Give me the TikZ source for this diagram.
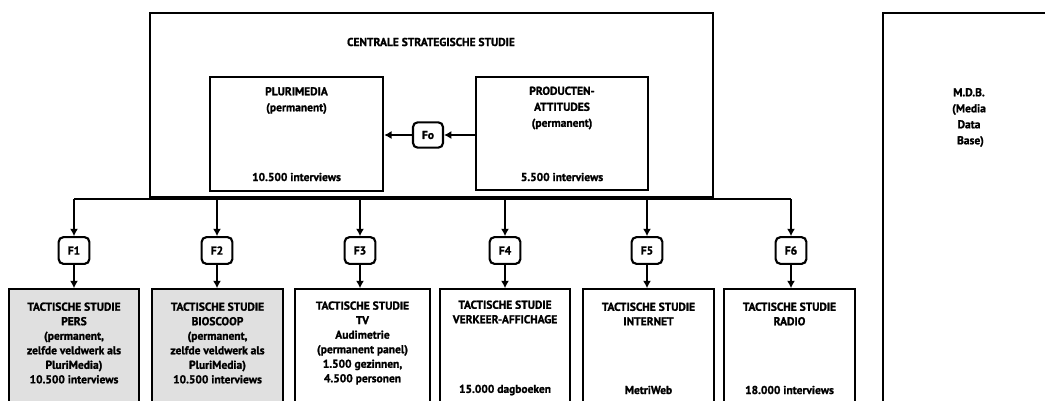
\documentclass[tikz,border=0pt]{standalone}
\usepackage{fontspec}
\setmainfont{PT Sans}[BoldFeatures={FakeBold=1.3}]
\usetikzlibrary{arrows.meta}
\tikzset{>={Latex[length=5.5pt,width=6pt]}}

\begin{document}
\begin{tikzpicture}[x=0.75pt,y=-0.75pt,
  font=\bfseries\fontsize{8.6}{10.9}\selectfont,
  box/.style={draw,line width=1.6pt,inner sep=0pt},
  fbox/.style={draw,line width=1.6pt,rounded corners=3.5pt,minimum width=23pt,minimum height=20pt,inner sep=0pt},
  tact/.style={box,minimum width=98pt,minimum height=98pt},
  toptext/.style={align=center,font=\bfseries\fontsize{8.6}{12}\selectfont},
  conn/.style={line width=0.9pt}]
  \clip (0,0) rectangle (1045,400);

  % Central study
  \node[box,line width=1.3pt,minimum width=422pt,minimum height=138pt] (central) at (431.5,105) {};
  \node (centraltitle) at (431,42) {CENTRALE STRATEGISCHE STUDIE};
  \node[box,minimum width=130pt,minimum height=85.5pt] (plurimedia) at (296.5,134) {};
  \node[box,minimum width=129pt,minimum height=85pt] (producten) at (562,133.5) {};
  \node[toptext] (pluritext) at (296.5,100.5) {PLURIMEDIA\\(permanent)};
  \node (pluricount) at (296.5,177) {10.500 interviews};
  \node[toptext] (prodtext) at (562,108) {PRODUCTEN-\\ATTITUDES\\(permanent)};
  \node (prodcount) at (562,177) {5.500 interviews};
  \node[fbox,minimum width=22.5pt,minimum height=19pt] (f0) at (428,135) {Fo};
  \draw[conn,->] (producten.west |- f0) -- (f0);
  \draw[conn,->] (f0) -- (plurimedia.east |- f0);

  % Media data base
  \node[box,minimum width=137pt,minimum height=306pt] (mdb) at (974,217) {};
  \node[toptext] (mdbtext) at (969,117.5) {M.D.B.\\(Media\\Data\\\ Base)};

  % Filters
  \node[fbox] (f1) at (74,250.5) {F1};
  \node[fbox] (f2) at (217,250.5) {F2};
  \node[fbox] (f3) at (360,250.5) {F3};
  \node[fbox] (f4) at (505,250.5) {F4};
  \node[fbox] (f5) at (647,250.5) {F5};
  \node[fbox] (f6) at (791,250.5) {F6};
  \coordinate (busL) at (74,199);
  \coordinate (busR) at (791,199);
  \draw[conn] (busL) -- (busR);

  % Tactical studies
  \node[tact,fill=black!12] (pers) at (74,354.5) {};
  \node[tact,fill=black!12] (bioscoop) at (217.5,354.5) {};
  \node[tact,minimum width=101pt] (tv) at (362.5,354.5) {};
  \node[tact] (affichage) at (505,354.5) {};
  \node[tact] (internet) at (648.5,354.5) {};
  \node[tact] (radio) at (789.5,354.5) {};

  \node[align=center] (perstext) at (74,343) {TACTISCHE STUDIE\\PERS\\(permanent,\\zelfde veldwerk als\\PluriMedia)\\10.500 interviews};
  \node[align=center] (biostext) at (217.5,343) {TACTISCHE STUDIE\\BIOSCOOP\\(permanent,\\zelfde veldwerk als\\PluriMedia)\\10.500 interviews};
  \node[align=center] (tvtext) at (362.5,343) {TACTISCHE STUDIE\\TV\\Audimetrie\\(permanent panel)\\1.500 gezinnen,\\4.500 personen};
  \node[align=center] (afftext) at (505,312) {TACTISCHE STUDIE\\VERKEER-AFFICHAGE};
  \node (affcount) at (505,390) {15.000 dagboeken};
  \node[align=center] (inttext) at (648.5,314) {TACTISCHE STUDIE\\INTERNET};
  \node (intcount) at (648.5,390) {MetriWeb};
  \node[align=center] (radtext) at (789.5,314) {TACTISCHE STUDIE\\RADIO};
  \node (radcount) at (789.5,390) {18.000 interviews};

  % Arrows
  \draw[conn,->] (f1 |- busL) -- (f1);
  \draw[conn,->] (f2 |- busL) -- (f2);
  \draw[conn,->] (f3 |- busL) -- (f3);
  \draw[conn,->] (f4 |- busL) -- (f4);
  \draw[conn,->] (f5 |- busL) -- (f5);
  \draw[conn,->] (f6 |- busL) -- (f6);
  \draw[conn,->] (f1) -- (f1 |- pers.north);
  \draw[conn,->] (f2) -- (f2 |- bioscoop.north);
  \draw[conn,->] (f3) -- (f3 |- tv.north);
  \draw[conn,->] (f4) -- (f4 |- affichage.north);
  \draw[conn,->] (f5) -- (f5 |- internet.north);
  \draw[conn,->] (f6) -- (f6 |- radio.north);
\end{tikzpicture}
\end{document}
